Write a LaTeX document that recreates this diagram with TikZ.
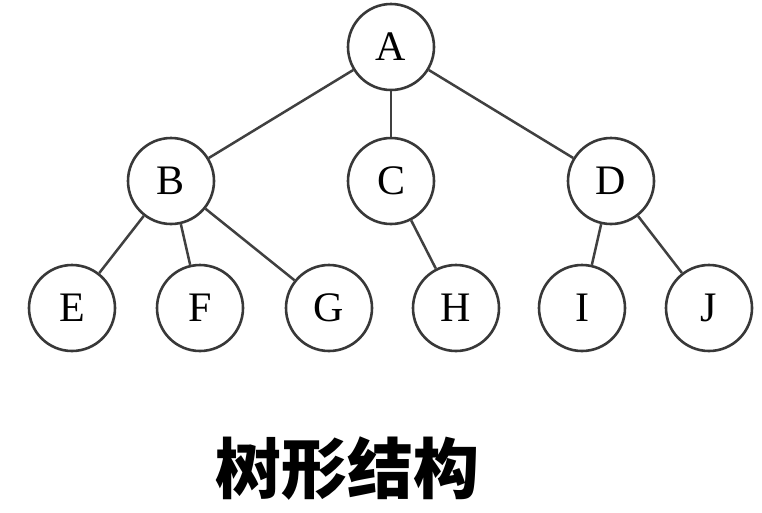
\documentclass[tikz,border=0pt]{standalone}
\usepackage{fontspec}
\setmainfont{Liberation Serif}
\newfontfamily\cjk{Noto Sans CJK SC}
\begin{document}
\begin{tikzpicture}[x=1pt,y=-1pt,
  tnode/.style={circle,draw=black!78,line width=2.6pt,minimum size=86pt,inner sep=0pt,fill=white,font=\fontsize{42}{42}\selectfont},
  tedge/.style={draw=black!75,line width=2.5pt}]
\useasboundingbox (0,0) rectangle (762,512);
\node[tnode] (A) at (391,47) {A};
\node[tnode] (B) at (171,181) {B};
\node[tnode] (C) at (391,181) {C};
\node[tnode] (D) at (611,181) {D};
\node[tnode] (E) at (72,308) {E};
\node[tnode] (F) at (200,308) {F};
\node[tnode] (G) at (329,308) {G};
\node[tnode] (H) at (456,308) {H};
\node[tnode] (I) at (582,308) {I};
\node[tnode] (J) at (709,308) {J};
\draw[tedge] (A) -- (B);
\draw[tedge] (A) -- (C);
\draw[tedge] (A) -- (D);
\draw[tedge] (B) -- (E);
\draw[tedge] (B) -- (F);
\draw[tedge] (B) -- (G);
\draw[tedge] (C) -- (H);
\draw[tedge] (D) -- (I);
\draw[tedge] (D) -- (J);
\node[font=\cjk\bfseries\fontsize{66}{66}\selectfont] (cap) at (347,469) {树形结构};
\end{tikzpicture}
\end{document}
